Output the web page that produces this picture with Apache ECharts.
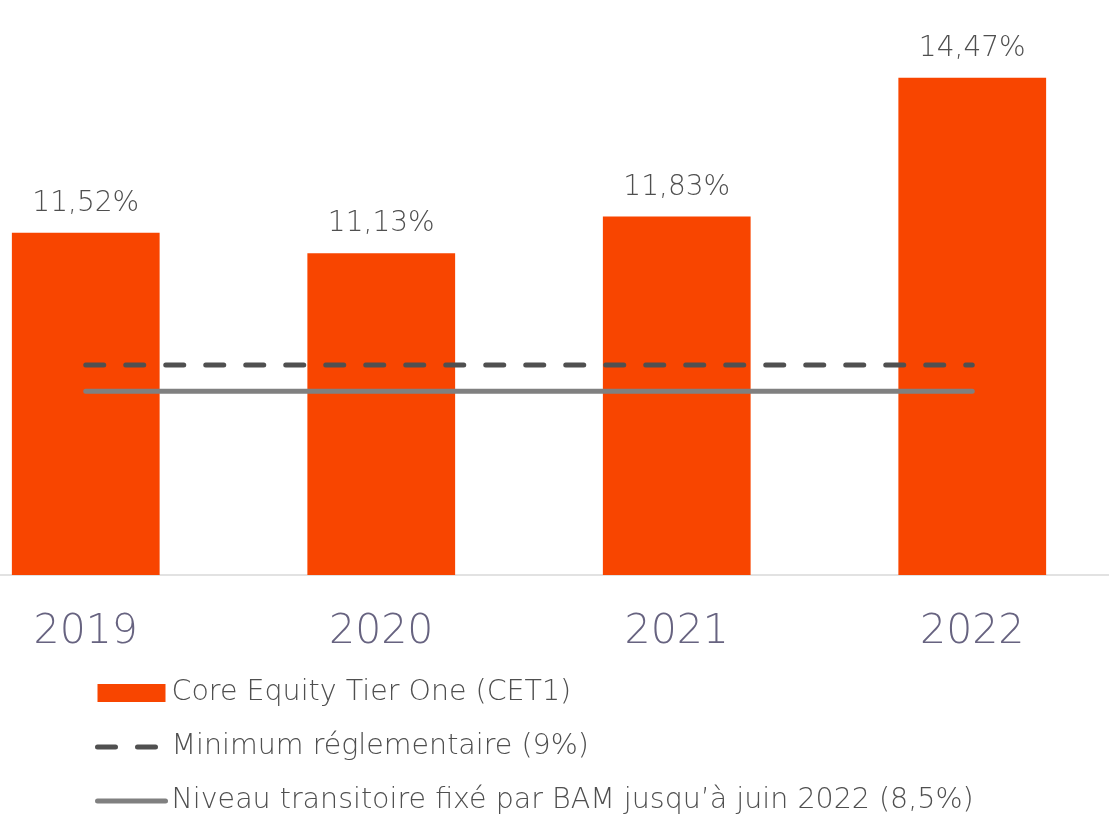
<!DOCTYPE html>
<html>
<head>
<meta charset="utf-8">
<script src="https://cdn.jsdelivr.net/npm/echarts@6/dist/echarts.min.js"></script>
<style>
html,body{margin:0;padding:0;background:#fff;overflow:hidden;width:1109px;height:817px;}
#chart{position:absolute;left:-62px;top:0;width:1182px;height:817px;}
</style>
</head>
<body>
<div id="chart"></div>
<script>
const categories = ['2019', '2020', '2021', '2022'];
const cet1Values = [11.52, 11.13, 11.83, 14.47];
const minimumValues = [9, 9, 9, 9];
const transitoireValues = [8.5, 8.5, 8.5, 8.5];
const seriesNames = [
  'Core Equity Tier One (CET1)',
  'Minimum réglementaire (9%)',
  "Niveau transitoire fixé par BAM jusqu’à juin 2022 (8,5%)"
];

const FONT = '"DejaVu Sans"';
const OFFSET = 62; // chart div is shifted left by this many px
const chart = echarts.init(document.getElementById('chart'), null, {renderer: 'canvas'});
chart.setOption({
  animation: false,
  backgroundColor: '#ffffff',
  grid: {left: 0, right: 0, top: 50, bottom: 242, containLabel: false},
  xAxis: {
    type: 'category',
    data: categories,
    boundaryGap: true,
    axisLine: {show: true, lineStyle: {color: '#d9d9d9', width: 1.5}},
    axisTick: {show: false},
    axisLabel: {color: '#676380', fontSize: 41, fontFamily: FONT, fontWeight: 200, margin: 37}
  },
  yAxis: {
    type: 'value', min: 5, max: 15,
    show: false,
    splitLine: {show: false}
  },
  legend: {
    orient: 'vertical',
    left: 95 + OFFSET, top: 678,
    padding: 0,
    itemWidth: 68, itemHeight: 18, itemGap: 24,
    textStyle: {color: '#4f4f4f', fontSize: 28.5, fontFamily: FONT, fontWeight: 200, lineHeight: 30, padding: [0,0,0,1]},
    data: [
      {name: seriesNames[0], icon: 'rect'},
      {name: seriesNames[1], itemStyle: {color: 'rgba(0,0,0,0)', borderWidth: 0},
       lineStyle: {color: '#505050', width: 5, type: [18, 22], cap: 'round'}},
      {name: seriesNames[2], itemStyle: {color: 'rgba(0,0,0,0)', borderWidth: 0},
       lineStyle: {color: '#808080', width: 5, cap: 'round'}}
    ]
  },
  series: [
    {
      name: seriesNames[0], type: 'bar', data: cet1Values,
      barWidth: '50%',
      itemStyle: {color: '#f84500'},
      label: {
        show: true, position: 'top', distance: 15,
        color: '#4f4f4f', fontSize: 28, fontFamily: FONT, fontWeight: 200,
        formatter: p => p.value.toFixed(2).replace('.', ',') + '%'
      },
      z: 1
    },
    {
      name: seriesNames[1], type: 'line', data: minimumValues,
      symbol: 'none',
      lineStyle: {color: '#505050', width: 5, type: [18, 22], cap: 'round'},
      itemStyle: {color: '#505050'},
      z: 3
    },
    {
      name: seriesNames[2], type: 'line', data: transitoireValues,
      symbol: 'none',
      lineStyle: {color: '#808080', width: 5, cap: 'round'},
      itemStyle: {color: '#808080'},
      z: 3
    }
  ]
});
</script>
</body>
</html>
